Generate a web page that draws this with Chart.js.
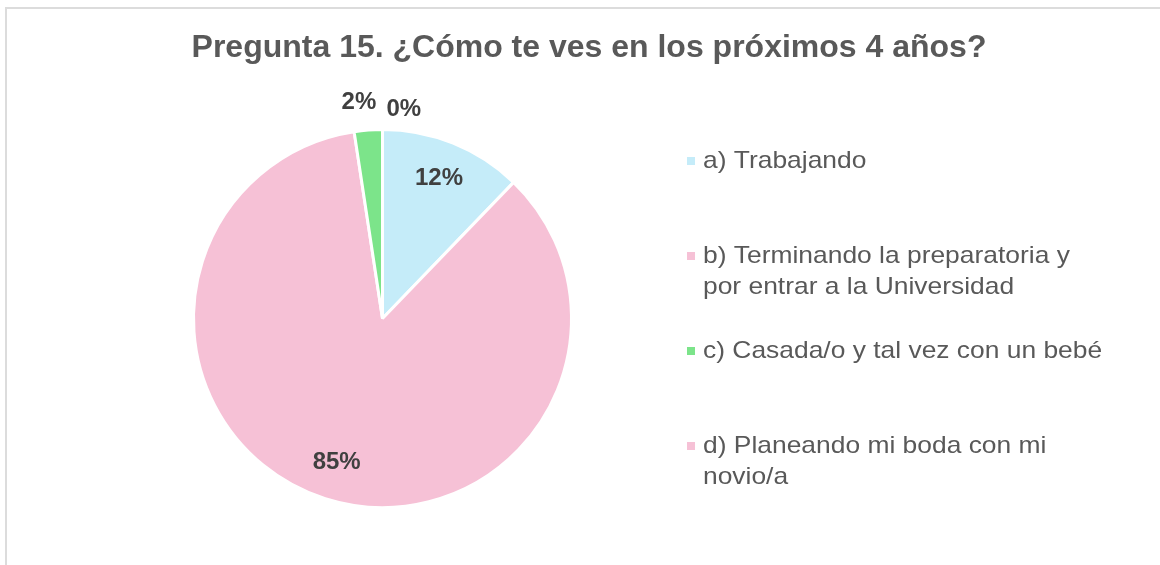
<!DOCTYPE html>
<html>
<head>
<meta charset="utf-8">
<script src="https://cdn.jsdelivr.net/npm/chart.js@4/dist/chart.umd.min.js"></script>
<style>
  body { margin: 0; background: #fff; }
  #wrap { position: relative; width: 1160px; height: 565px; overflow: hidden; }
  #frame { position: absolute; left: 5px; top: 7px; width: 2000px; height: 2000px;
           border-top: 2px solid #dcdcdc; border-left: 2px solid #dcdcdc; }
  canvas { position: absolute; left: 0; top: 0; }
</style>
</head>
<body>
<div id="wrap">
  <div id="frame"></div>
  <canvas id="myChart" width="1160" height="565"></canvas>
</div>
<script>
// chart data
const titleText = 'Pregunta 15. ¿Cómo te ves en los próximos 4 años?';
const categories = [
    ['a) Trabajando'],
    ['b) Terminando la preparatoria y', 'por entrar a la Universidad'],
    ['c) Casada/o y tal vez con un bebé'],
    ['d) Planeando mi boda con mi', 'novio/a']
];
const percentValues = [12.2, 85.4, 2.4, 0];
const sliceColors = ['#C5ECF9', '#F6C1D6', '#7CE48A', '#F6C1D6'];

// labels with the percentage, inside big slices, outside small ones
const pieLabels = {
    id: 'pieLabels',
    afterDatasetsDraw(chart) {
        const ctx = chart.ctx;
        const arcs = chart.getDatasetMeta(0).data;
        ctx.save();
        ctx.font = 'bold 24px "Liberation Sans", Arial, sans-serif';
        ctx.fillStyle = '#404040';
        ctx.textBaseline = 'middle';
        arcs.forEach((arc, i) => {
            const v = percentValues[i];
            const text = Math.round(v) + '%';
            const mid = (arc.startAngle + arc.endAngle) / 2;
            if (v >= 5) {
                const r = arc.outerRadius * 0.8;
                ctx.textAlign = 'center';
                ctx.fillText(text, arc.x + Math.cos(mid) * r, arc.y + Math.sin(mid) * r);
            } else {
                const r = arc.outerRadius + 26;
                const x = arc.x + Math.cos(mid) * r;
                const y = arc.y + Math.sin(mid) * r;
                if (Math.cos(mid) < -0.01) {
                    ctx.textAlign = 'right';
                    ctx.fillText(text, x + 10, y - 2);
                } else {
                    // nudge the last small label down so the two don't collide
                    ctx.textAlign = 'left';
                    ctx.fillText(text, x + 4, y + 6);
                }
            }
        });
        ctx.restore();
    }
};

// title and legend drawn on the canvas
const sideParts = {
    id: 'sideParts',
    afterDraw(chart) {
        const ctx = chart.ctx;
        ctx.save();
        ctx.fillStyle = '#595959';
        ctx.font = 'bold 32px "Liberation Sans", Arial, sans-serif';
        ctx.textAlign = 'center';
        ctx.textBaseline = 'alphabetic';
        ctx.fillText(titleText, 589, 57);

        ctx.font = '24px "Liberation Sans", Arial, sans-serif';
        ctx.textAlign = 'left';
        ctx.textBaseline = 'middle';
        categories.forEach((lines, i) => {
            const y0 = 161 + i * 95;
            ctx.fillStyle = sliceColors[i];
            ctx.fillRect(687, y0 - 4, 8, 8);
            ctx.fillStyle = '#595959';
            lines.forEach((line, j) => {
                ctx.save();
                ctx.translate(703, y0 + j * 31);
                ctx.scale(1.1, 1);
                ctx.fillText(line, 0, 0);
                ctx.restore();
            });
        });
        ctx.restore();
    }
};

const ctx = document.getElementById('myChart').getContext('2d');
const chart = new Chart(ctx, {
    type: 'pie',
    data: {
        labels: categories,
        datasets: [{
            data: percentValues,
            backgroundColor: sliceColors,
            borderColor: '#ffffff',
            borderWidth: 3,
            hoverOffset: 0
        }]
    },
    options: {
        responsive: false,
        animation: false,
        events: [],
        layout: {
            padding: { left: 192, top: 128, right: 587, bottom: 56 }
        },
        plugins: {
            legend: { display: false },
            title: { display: false },
            tooltip: { enabled: false }
        }
    },
    plugins: [pieLabels, sideParts]
});
</script>
</body>
</html>
